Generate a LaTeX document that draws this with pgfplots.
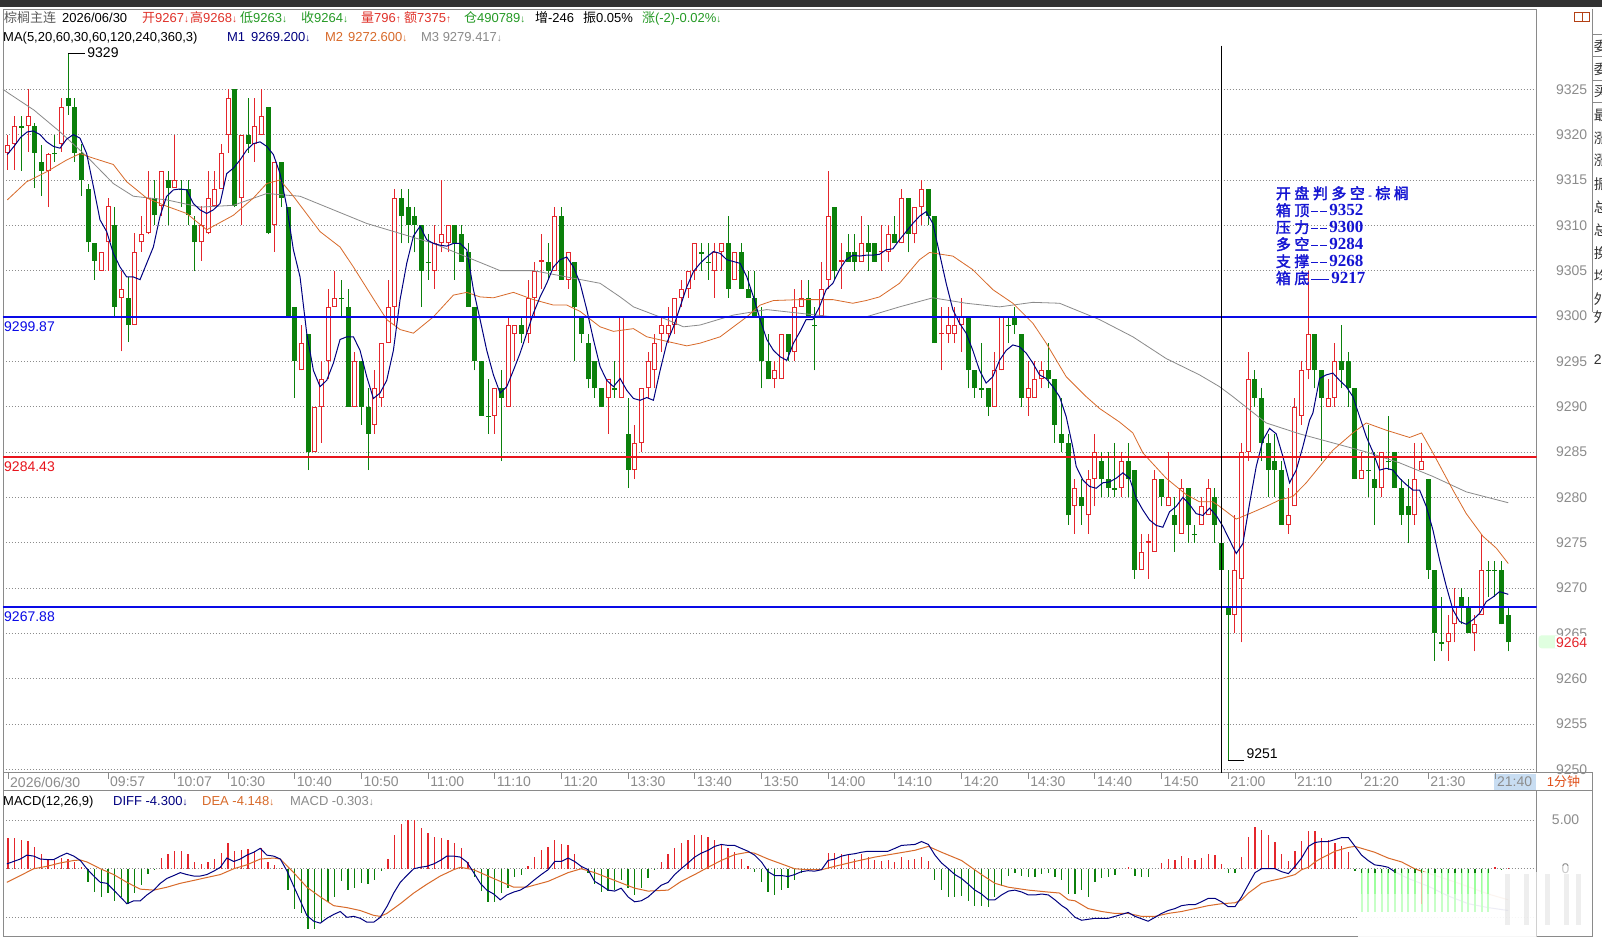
\documentclass[border=0pt]{standalone}
\usepackage{pgfplots}
\pgfplotsset{compat=1.18}
\usepackage{fontspec}
\setmainfont{Liberation Sans}
\newfontfamily\cjk{Noto Sans CJK SC}
\newfontfamily\cjkb[FakeBold=2]{Noto Sans CJK SC}
\newfontfamily\serifb{Liberation Serif}
\newcommand\fs[1]{\fontsize{#1}{#1}\selectfont}
\newcommand\da{{\fs{10}↓}}
\newcommand\ua{{\fs{10}↑}}
\definecolor{cR}{HTML}{E4262C}
\definecolor{cG}{HTML}{0B800B}
\definecolor{navy}{HTML}{000080}
\definecolor{ma20}{HTML}{D86A2A}
\definecolor{ma60}{HTML}{8A8A8A}
\definecolor{lblue}{HTML}{0A0AE6}
\definecolor{lred}{HTML}{E8141C}
\definecolor{txtred}{HTML}{E0322A}
\definecolor{txtgreen}{HTML}{259A25}
\definecolor{txtgray}{HTML}{8C8C8C}
\definecolor{hl}{HTML}{C8DDF2}
\definecolor{boxblue}{HTML}{1414D2}
\definecolor{frame}{HTML}{8A8A8A}
\definecolor{orangetxt}{HTML}{E0501A}

\begin{document}
\begin{tikzpicture}
\begin{scope}[x=1pt,y=1pt]
\fill[white] (0,0) rectangle (1602,942);
\fill[black!80] (0,935) rectangle (1602,942);
\fill[hl] (1494,152) rectangle (1536,168);
\end{scope}

% ---------------- main price panel ----------------
\begin{axis}[
  at={(3pt,169pt)}, anchor=south west, scale only axis,
  width=1534pt, height=764pt,
  xmin=-0.75, xmax=229.25, ymin=9249.62, ymax=9333.85,
  axis line style={frame, line width=0.8pt},
  scaled y ticks=false,
  ytick={9250,9255,...,9325}, yticklabel pos=right, ytick pos=right,
  ymajorgrids, grid style={black!45, dash pattern=on 1pt off 2pt, line width=0.7pt},
  ytick style={draw=none},
  xtick={0,15,25,33,43,53,63,73,83,93,103,113,123,133,143,153,163,173,183,193,203,213,223},
  xticklabels={2026/06/30,09:57,10:07,10:30,10:40,10:50,11:00,11:10,11:20,13:30,13:40,13:50,14:00,14:10,14:20,14:30,14:40,14:50,21:00,21:10,21:20,21:30,21:40},
  xtick pos=left, tick align=outside, major tick length=6pt,
  xtick style={frame, line width=0.8pt},
  xticklabel style={anchor=north west, inner sep=0pt, xshift=2pt, yshift=2pt, text=txtgray, font=\fs{14}},
  yticklabel style={anchor=center, xshift=29pt, text=txtgray, font=\fs{14}},
  /pgf/number format/1000 sep={}, /pgf/number format/assume math mode=true,
  unbounded coords=jump,
]
% ---- wicks (low to high) of rising candles
\addplot[cR, line width=1pt, mark=none] coordinates {(0,9316.1)(0,9319.9)(0,nan)(1,9316.1)(1,9322)(1,nan)(3,9318.1)(3,9325)(3,nan)(6,9312)(6,9318)(6,nan)(8,9318.1)(8,9324)(8,nan)(14,9305)(14,9307.1)(14,nan)(15,9305)(15,9313)(15,nan)(17,9296.1)(17,9305)(17,nan)(19,9299)(19,9309.1)(19,nan)(20,9307.1)(20,9311)(20,nan)(21,9309)(21,9316)(21,nan)(23,9311)(23,9316)(23,nan)(25,9314.1)(25,9320)(25,nan)(29,9306.1)(29,9312.1)(29,nan)(30,9309)(30,9316)(30,nan)(31,9312)(31,9316)(31,nan)(32,9314)(32,9319)(32,nan)(33,9318)(33,9325)(33,nan)(35,9310)(35,9320)(35,nan)(37,9317)(37,9324)(37,nan)(38,9320)(38,9325)(38,nan)(40,9307.1)(40,9317)(40,nan)(44,9294)(44,9299)(44,nan)(46,9285)(46,9290)(46,nan)(47,9286)(47,9295)(47,nan)(48,9293)(48,9303)(48,nan)(49,9301)(49,9305)(49,nan)(52,9290)(52,9296)(52,nan)(55,9287)(55,9294)(55,nan)(56,9290)(56,9297)(56,nan)(57,9297)(57,9304)(57,nan)(58,9299)(58,9314)(58,nan)(64,9303)(64,9310)(64,nan)(65,9307)(65,9315)(65,nan)(66,9307)(66,9310)(66,nan)(73,9287)(73,9292)(73,nan)(75,9290)(75,9300)(75,nan)(76,9295)(76,9299)(76,nan)(78,9297)(78,9304)(78,nan)(79,9300)(79,9306)(79,nan)(80,9303)(80,9309)(80,nan)(82,9305)(82,9312)(82,nan)(84,9303)(84,9307)(84,nan)(90,9287)(90,9293)(90,nan)(92,9291)(92,9300)(92,nan)(94,9282)(94,9288)(94,nan)(95,9285)(95,9292)(95,nan)(96,9291)(96,9296)(96,nan)(97,9292)(97,9298)(97,nan)(98,9296)(98,9300)(98,nan)(99,9297)(99,9301)(99,nan)(100,9298)(100,9302)(100,nan)(101,9301)(101,9304)(101,nan)(102,9302)(102,9305)(102,nan)(103,9304)(103,9308)(103,nan)(106,9302)(106,9308)(106,nan)(107,9305)(107,9308)(107,nan)(109,9304)(109,9307)(109,nan)(115,9292)(115,9295)(115,nan)(116,9293)(116,9298)(116,nan)(118,9295)(118,9303)(118,nan)(119,9301)(119,9304)(119,nan)(122,9300)(122,9306)(122,nan)(123,9303)(123,9316)(123,nan)(125,9303)(125,9308)(125,nan)(128,9306)(128,9311)(128,nan)(131,9305)(131,9310)(131,nan)(132,9306)(132,9310)(132,nan)(134,9308)(134,9314)(134,nan)(136,9308)(136,9312)(136,nan)(137,9310)(137,9315)(137,nan)(140,9294)(140,9301)(140,nan)(141,9297)(141,9301)(141,nan)(142,9297)(142,9301)(142,nan)(143,9296)(143,9302)(143,nan)(148,9290)(148,9296)(148,nan)(149,9294)(149,9300)(149,nan)(153,9289)(153,9295)(153,nan)(154,9291)(154,9295)(154,nan)(155,9292)(155,9295)(155,nan)(160,9276)(160,9282)(160,nan)(162,9276)(162,9283)(162,nan)(163,9279)(163,9287)(163,nan)(167,9280)(167,9285)(167,nan)(170,9272)(170,9276)(170,nan)(171,9271)(171,9276)(171,nan)(172,9274)(172,9283)(172,nan)(174,9279)(174,9285)(174,nan)(176,9276)(176,9282)(176,nan)(179,9277)(179,9280)(179,nan)(180,9278)(180,9282)(180,nan)(184,9265)(184,9278)(184,nan)(185,9264)(185,9286)(185,nan)(186,9284)(186,9296)(186,nan)(192,9276)(192,9281)(192,nan)(193,9279)(193,9291)(193,nan)(194,9288)(194,9295)(194,nan)(195,9293)(195,9305)(195,nan)(198,9290)(198,9293)(198,nan)(199,9290)(199,9297)(199,nan)(203,9282)(203,9285)(203,nan)(206,9280)(206,9285)(206,nan)(211,9277)(211,9286)(211,nan)(212,9283)(212,9286)(212,nan)(216,9262)(216,9267)(216,nan)(217,9264)(217,9270)(217,nan)(220,9263)(220,9267)(220,nan)(221,9267)(221,9276)(221,nan)};
% ---- wicks of falling candles
\addplot[cG, line width=1pt, mark=none] coordinates {(2,9316)(2,9322)(2,nan)(4,9314.1)(4,9321.3)(4,nan)(5,9313.2)(5,9318.9)(5,nan)(7,9317)(7,9320)(7,nan)(9,9322.2)(9,9329)(9,nan)(10,9317)(10,9324)(10,nan)(11,9313.2)(11,9319)(11,nan)(12,9307.1)(12,9314.6)(12,nan)(13,9304)(13,9308)(13,nan)(16,9300)(16,9312)(16,nan)(18,9297.1)(18,9304.3)(18,nan)(22,9310)(22,9315)(22,nan)(24,9310)(24,9316)(24,nan)(26,9312)(26,9315)(26,nan)(27,9310)(27,9315)(27,nan)(28,9305)(28,9311)(28,nan)(34,9312)(34,9325)(34,nan)(36,9318)(36,9324)(36,nan)(39,9309)(39,9323)(39,nan)(41,9312)(41,9317)(41,nan)(42,9300)(42,9312)(42,nan)(43,9291)(43,9301)(43,nan)(45,9283)(45,9298)(45,nan)(50,9300)(50,9304)(50,nan)(51,9290)(51,9303)(51,nan)(53,9288)(53,9295)(53,nan)(54,9283)(54,9292)(54,nan)(59,9308)(59,9314)(59,nan)(60,9308)(60,9314)(60,nan)(61,9307)(61,9312)(61,nan)(62,9301)(62,9310)(62,nan)(63,9304)(63,9309)(63,nan)(67,9304)(67,9310)(67,nan)(68,9306)(68,9310)(68,nan)(69,9301)(69,9308)(69,nan)(70,9294)(70,9301)(70,nan)(71,9289)(71,9295)(71,nan)(72,9287)(72,9293)(72,nan)(74,9284)(74,9294)(74,nan)(77,9297)(77,9300)(77,nan)(81,9304)(81,9308)(81,nan)(83,9304)(83,9312)(83,nan)(85,9295)(85,9306)(85,nan)(86,9297)(86,9300)(86,nan)(87,9292)(87,9298)(87,nan)(88,9291)(88,9295)(88,nan)(89,9290)(89,9292)(89,nan)(91,9291)(91,9295)(91,nan)(93,9281)(93,9291)(93,nan)(104,9305)(104,9308)(104,nan)(105,9304)(105,9308)(105,nan)(108,9302)(108,9311)(108,nan)(110,9303)(110,9308)(110,nan)(111,9302)(111,9305)(111,nan)(112,9300)(112,9305)(112,nan)(113,9292)(113,9301)(113,nan)(114,9293)(114,9298)(114,nan)(117,9295)(117,9298)(117,nan)(120,9300)(120,9304)(120,nan)(121,9294)(121,9301)(121,nan)(124,9304)(124,9312)(124,nan)(126,9306)(126,9309)(126,nan)(127,9305)(127,9309)(127,nan)(129,9305)(129,9310)(129,nan)(130,9306)(130,9308)(130,nan)(133,9308)(133,9311)(133,nan)(135,9307)(135,9313)(135,nan)(138,9310)(138,9314)(138,nan)(139,9297)(139,9311)(139,nan)(144,9292)(144,9300)(144,nan)(145,9291)(145,9294)(145,nan)(146,9291)(146,9297)(146,nan)(147,9289)(147,9292)(147,nan)(150,9297)(150,9300)(150,nan)(151,9298)(151,9301)(151,nan)(152,9290)(152,9298)(152,nan)(156,9292)(156,9297)(156,nan)(157,9286)(157,9293)(157,nan)(158,9285)(158,9291)(158,nan)(159,9277)(159,9287)(159,nan)(161,9277)(161,9282)(161,nan)(164,9280)(164,9285)(164,nan)(165,9280)(165,9285)(165,nan)(166,9280)(166,9286)(166,nan)(168,9280)(168,9286)(168,nan)(169,9271)(169,9283)(169,nan)(173,9279)(173,9282)(173,nan)(175,9274)(175,9280)(175,nan)(177,9275)(177,9281)(177,nan)(178,9275)(178,9277)(178,nan)(181,9275)(181,9281)(181,nan)(182,9272)(182,9275)(182,nan)(183,9251)(183,9272)(183,nan)(187,9290)(187,9294)(187,nan)(188,9284)(188,9292)(188,nan)(189,9280)(189,9287)(189,nan)(190,9280)(190,9287)(190,nan)(191,9277)(191,9284)(191,nan)(196,9292)(196,9298)(196,nan)(197,9284)(197,9294)(197,nan)(200,9292)(200,9299)(200,nan)(201,9290)(201,9296)(201,nan)(202,9282)(202,9292)(202,nan)(204,9280)(204,9288)(204,nan)(205,9277)(205,9285)(205,nan)(207,9283)(207,9289)(207,nan)(208,9281)(208,9285)(208,nan)(209,9277)(209,9282)(209,nan)(210,9275)(210,9282)(210,nan)(213,9271)(213,9282)(213,nan)(214,9262)(214,9272)(214,nan)(215,9263)(215,9269)(215,nan)(218,9266)(218,9270)(218,nan)(219,9265)(219,9269)(219,nan)(222,9269)(222,9273)(222,nan)(223,9269)(223,9273)(223,nan)(224,9266)(224,9273)(224,nan)(225,9263)(225,9268)(225,nan)};
% ---- bodies (open to close) of rising candles
\addplot[cR, line width=5pt, mark=none] coordinates {(0,9318)(0,9318.9)(0,nan)(1,9319)(1,9321)(1,nan)(3,9321)(3,9322)(3,nan)(6,9316)(6,9317.9)(6,nan)(8,9319)(8,9323)(8,nan)(14,9305)(14,9307.1)(14,nan)(15,9308.1)(15,9312.1)(15,nan)(17,9302)(17,9303)(17,nan)(19,9299)(19,9307)(19,nan)(20,9308.1)(20,9309)(20,nan)(21,9309.1)(21,9313)(21,nan)(23,9312.1)(23,9316)(23,nan)(25,9314.1)(25,9315)(25,nan)(29,9308.1)(29,9310)(29,nan)(30,9309.1)(30,9313)(30,nan)(31,9312.1)(31,9314)(31,nan)(32,9314)(32,9318)(32,nan)(33,9320)(33,9324)(33,nan)(35,9313)(35,9320)(35,nan)(37,9319)(37,9321)(37,nan)(38,9320)(38,9322)(38,nan)(40,9310)(40,9317)(40,nan)(44,9294)(44,9297)(44,nan)(46,9285)(46,9290)(46,nan)(47,9290)(47,9293)(47,nan)(48,9295)(48,9301)(48,nan)(49,9301)(49,9302)(49,nan)(52,9290)(52,9295)(52,nan)(55,9288)(55,9292)(55,nan)(56,9291)(56,9297)(56,nan)(57,9297)(57,9301)(57,nan)(58,9301)(58,9313)(58,nan)(64,9305)(64,9308)(64,nan)(65,9308)(65,9309)(65,nan)(66,9308)(66,9310)(66,nan)(73,9289)(73,9292)(73,nan)(75,9290)(75,9299)(75,nan)(76,9298)(76,9299)(76,nan)(78,9298)(78,9302)(78,nan)(79,9302)(79,9305)(79,nan)(80,9306)(80,9306.15)(80,nan)(82,9305)(82,9311)(82,nan)(84,9304)(84,9307)(84,nan)(90,9291)(90,9293)(90,nan)(92,9291)(92,9300)(92,nan)(94,9283)(94,9286)(94,nan)(95,9286)(95,9292)(95,nan)(96,9292)(96,9295)(96,nan)(97,9294)(97,9297)(97,nan)(98,9298)(98,9299)(98,nan)(99,9298)(99,9299)(99,nan)(100,9299)(100,9302)(100,nan)(101,9302)(101,9303)(101,nan)(102,9303)(102,9305)(102,nan)(103,9305)(103,9308)(103,nan)(106,9305)(106,9307)(106,nan)(107,9307)(107,9308)(107,nan)(109,9304)(109,9307)(109,nan)(115,9293)(115,9294)(115,nan)(116,9293)(116,9298)(116,nan)(118,9296)(118,9301)(118,nan)(119,9301)(119,9302)(119,nan)(122,9300)(122,9303)(122,nan)(123,9304)(123,9311)(123,nan)(125,9306)(125,9306.15)(125,nan)(128,9306)(128,9308)(128,nan)(131,9307)(131,9307.15)(131,nan)(132,9307)(132,9309)(132,nan)(134,9308)(134,9313)(134,nan)(136,9309)(136,9312)(136,nan)(137,9312)(137,9314)(137,nan)(140,9298)(140,9298.15)(140,nan)(141,9298)(141,9299)(141,nan)(142,9298)(142,9299)(142,nan)(143,9299)(143,9300)(143,nan)(148,9290)(148,9294)(148,nan)(149,9294)(149,9300)(149,nan)(153,9291)(153,9292)(153,nan)(154,9291)(154,9293)(154,nan)(155,9293)(155,9294)(155,nan)(160,9279)(160,9281)(160,nan)(162,9278)(162,9282)(162,nan)(163,9282)(163,9285)(163,nan)(167,9281)(167,9284)(167,nan)(170,9272)(170,9274)(170,nan)(171,9275)(171,9275.15)(171,nan)(172,9274)(172,9282)(172,nan)(174,9279)(174,9280)(174,nan)(176,9276)(176,9281)(176,nan)(179,9277)(179,9279)(179,nan)(180,9278)(180,9281)(180,nan)(184,9267)(184,9272)(184,nan)(185,9271)(185,9285)(185,nan)(186,9285)(186,9293)(186,nan)(192,9277)(192,9278)(192,nan)(193,9279)(193,9290)(193,nan)(194,9289)(194,9294)(194,nan)(195,9294)(195,9298)(195,nan)(198,9290)(198,9291)(198,nan)(199,9291)(199,9295)(199,nan)(203,9282)(203,9283)(203,nan)(206,9281)(206,9285)(206,nan)(211,9278)(211,9282)(211,nan)(212,9283)(212,9284)(212,nan)(216,9264)(216,9265)(216,nan)(217,9266)(217,9268)(217,nan)(220,9265)(220,9266)(220,nan)(221,9267)(221,9272)(221,nan)};
% ---- hollow interior of rising candles
\addplot[white, line width=3pt, mark=none] coordinates {(0,9318.11)(0,9318.79)(0,nan)(1,9319.11)(1,9320.89)(1,nan)(3,9321.11)(3,9321.89)(3,nan)(6,9316.11)(6,9317.79)(6,nan)(8,9319.11)(8,9322.89)(8,nan)(14,9305.11)(14,9306.99)(14,nan)(15,9308.21)(15,9311.99)(15,nan)(17,9302.11)(17,9302.89)(17,nan)(19,9299.11)(19,9306.89)(19,nan)(20,9308.21)(20,9308.89)(20,nan)(21,9309.21)(21,9312.89)(21,nan)(23,9312.21)(23,9315.89)(23,nan)(25,9314.21)(25,9314.89)(25,nan)(29,9308.21)(29,9309.89)(29,nan)(30,9309.21)(30,9312.89)(30,nan)(31,9312.21)(31,9313.89)(31,nan)(32,9314.11)(32,9317.89)(32,nan)(33,9320.11)(33,9323.89)(33,nan)(35,9313.11)(35,9319.89)(35,nan)(37,9319.11)(37,9320.89)(37,nan)(38,9320.11)(38,9321.89)(38,nan)(40,9310.11)(40,9316.89)(40,nan)(44,9294.11)(44,9296.89)(44,nan)(46,9285.11)(46,9289.89)(46,nan)(47,9290.11)(47,9292.89)(47,nan)(48,9295.11)(48,9300.89)(48,nan)(49,9301.11)(49,9301.89)(49,nan)(52,9290.11)(52,9294.89)(52,nan)(55,9288.11)(55,9291.89)(55,nan)(56,9291.11)(56,9296.89)(56,nan)(57,9297.11)(57,9300.89)(57,nan)(58,9301.11)(58,9312.89)(58,nan)(64,9305.11)(64,9307.89)(64,nan)(65,9308.11)(65,9308.89)(65,nan)(66,9308.11)(66,9309.89)(66,nan)(73,9289.11)(73,9291.89)(73,nan)(75,9290.11)(75,9298.89)(75,nan)(76,9298.11)(76,9298.89)(76,nan)(78,9298.11)(78,9301.89)(78,nan)(79,9302.11)(79,9304.89)(79,nan)(82,9305.11)(82,9310.89)(82,nan)(84,9304.11)(84,9306.89)(84,nan)(90,9291.11)(90,9292.89)(90,nan)(92,9291.11)(92,9299.89)(92,nan)(94,9283.11)(94,9285.89)(94,nan)(95,9286.11)(95,9291.89)(95,nan)(96,9292.11)(96,9294.89)(96,nan)(97,9294.11)(97,9296.89)(97,nan)(98,9298.11)(98,9298.89)(98,nan)(99,9298.11)(99,9298.89)(99,nan)(100,9299.11)(100,9301.89)(100,nan)(101,9302.11)(101,9302.89)(101,nan)(102,9303.11)(102,9304.89)(102,nan)(103,9305.11)(103,9307.89)(103,nan)(106,9305.11)(106,9306.89)(106,nan)(107,9307.11)(107,9307.89)(107,nan)(109,9304.11)(109,9306.89)(109,nan)(115,9293.11)(115,9293.89)(115,nan)(116,9293.11)(116,9297.89)(116,nan)(118,9296.11)(118,9300.89)(118,nan)(119,9301.11)(119,9301.89)(119,nan)(122,9300.11)(122,9302.89)(122,nan)(123,9304.11)(123,9310.89)(123,nan)(128,9306.11)(128,9307.89)(128,nan)(132,9307.11)(132,9308.89)(132,nan)(134,9308.11)(134,9312.89)(134,nan)(136,9309.11)(136,9311.89)(136,nan)(137,9312.11)(137,9313.89)(137,nan)(141,9298.11)(141,9298.89)(141,nan)(142,9298.11)(142,9298.89)(142,nan)(143,9299.11)(143,9299.89)(143,nan)(148,9290.11)(148,9293.89)(148,nan)(149,9294.11)(149,9299.89)(149,nan)(153,9291.11)(153,9291.89)(153,nan)(154,9291.11)(154,9292.89)(154,nan)(155,9293.11)(155,9293.89)(155,nan)(160,9279.11)(160,9280.89)(160,nan)(162,9278.11)(162,9281.89)(162,nan)(163,9282.11)(163,9284.89)(163,nan)(167,9281.11)(167,9283.89)(167,nan)(170,9272.11)(170,9273.89)(170,nan)(172,9274.11)(172,9281.89)(172,nan)(174,9279.11)(174,9279.89)(174,nan)(176,9276.11)(176,9280.89)(176,nan)(179,9277.11)(179,9278.89)(179,nan)(180,9278.11)(180,9280.89)(180,nan)(184,9267.11)(184,9271.89)(184,nan)(185,9271.11)(185,9284.89)(185,nan)(186,9285.11)(186,9292.89)(186,nan)(192,9277.11)(192,9277.89)(192,nan)(193,9279.11)(193,9289.89)(193,nan)(194,9289.11)(194,9293.89)(194,nan)(195,9294.11)(195,9297.89)(195,nan)(198,9290.11)(198,9290.89)(198,nan)(199,9291.11)(199,9294.89)(199,nan)(203,9282.11)(203,9282.89)(203,nan)(206,9281.11)(206,9284.89)(206,nan)(211,9278.11)(211,9281.89)(211,nan)(212,9283.11)(212,9283.89)(212,nan)(216,9264.11)(216,9264.89)(216,nan)(217,9266.11)(217,9267.89)(217,nan)(220,9265.11)(220,9265.89)(220,nan)(221,9267.11)(221,9271.89)(221,nan)};
% ---- bodies (close to open) of falling candles
\addplot[cG, line width=5pt, mark=none] coordinates {(2,9320.75)(2,9320.9)(2,nan)(4,9318)(4,9321)(4,nan)(5,9316)(5,9317)(5,nan)(7,9317.85)(7,9318)(7,nan)(9,9323.1)(9,9324)(9,nan)(10,9318)(10,9323)(10,nan)(11,9315)(11,9318)(11,nan)(12,9308.1)(12,9314)(12,nan)(13,9306.1)(13,9308)(13,nan)(16,9301)(16,9310)(16,nan)(18,9299)(18,9302)(18,nan)(22,9311.1)(22,9313)(22,nan)(24,9314.1)(24,9315)(24,nan)(26,9313.85)(26,9314)(26,nan)(27,9311.1)(27,9314)(27,nan)(28,9308.1)(28,9310)(28,nan)(34,9312.1)(34,9325)(34,nan)(36,9319)(36,9320)(36,nan)(39,9309.1)(39,9323)(39,nan)(41,9313)(41,9317)(41,nan)(42,9300)(42,9312)(42,nan)(43,9295)(43,9301)(43,nan)(45,9285)(45,9298)(45,nan)(50,9301.85)(50,9302)(50,nan)(51,9290)(51,9301)(51,nan)(53,9290)(53,9295)(53,nan)(54,9287)(54,9290)(54,nan)(59,9311)(59,9313)(59,nan)(60,9310)(60,9312)(60,nan)(61,9310)(61,9311)(61,nan)(62,9305)(62,9310)(62,nan)(63,9305.85)(63,9306)(63,nan)(67,9308)(67,9310)(67,nan)(68,9306)(68,9309)(68,nan)(69,9301)(69,9307)(69,nan)(70,9295)(70,9301)(70,nan)(71,9289)(71,9295)(71,nan)(72,9288.85)(72,9289)(72,nan)(74,9291)(74,9292)(74,nan)(77,9298)(77,9299)(77,nan)(81,9305)(81,9306)(81,nan)(83,9304)(83,9311)(83,nan)(85,9301)(85,9306)(85,nan)(86,9298)(86,9300)(86,nan)(87,9293)(87,9297)(87,nan)(88,9292)(88,9295)(88,nan)(89,9290)(89,9292)(89,nan)(91,9291.85)(91,9292)(91,nan)(93,9283)(93,9287)(93,nan)(104,9306.85)(104,9307)(104,nan)(105,9305.85)(105,9306)(105,nan)(108,9303)(108,9308)(108,nan)(110,9303)(110,9307)(110,nan)(111,9302)(111,9303)(111,nan)(112,9300)(112,9302)(112,nan)(113,9295)(113,9300)(113,nan)(114,9293)(114,9295)(114,nan)(117,9296)(117,9298)(117,nan)(120,9300)(120,9302)(120,nan)(121,9298.85)(121,9299)(121,nan)(124,9305)(124,9312)(124,nan)(126,9306)(126,9307)(126,nan)(127,9306)(127,9307)(127,nan)(129,9307)(129,9308)(129,nan)(130,9306)(130,9308)(130,nan)(133,9308)(133,9309)(133,nan)(135,9309)(135,9313)(135,nan)(138,9311)(138,9314)(138,nan)(139,9297)(139,9311)(139,nan)(144,9294)(144,9300)(144,nan)(145,9292)(145,9294)(145,nan)(146,9291.85)(146,9292)(146,nan)(147,9290)(147,9292)(147,nan)(150,9298.85)(150,9299)(150,nan)(151,9299)(151,9300)(151,nan)(152,9291)(152,9298)(152,nan)(156,9293)(156,9294)(156,nan)(157,9288)(157,9293)(157,nan)(158,9286)(158,9287)(158,nan)(159,9278)(159,9286)(159,nan)(161,9279)(161,9280)(161,nan)(164,9282)(164,9284)(164,nan)(165,9281)(165,9282)(165,nan)(166,9280.85)(166,9281)(166,nan)(168,9282)(168,9284)(168,nan)(169,9272)(169,9283)(169,nan)(173,9280)(173,9282)(173,nan)(175,9277)(175,9278)(175,nan)(177,9277)(177,9281)(177,nan)(178,9275.85)(178,9276)(178,nan)(181,9277)(181,9280)(181,nan)(182,9272)(182,9275)(182,nan)(183,9267)(183,9268)(183,nan)(187,9291)(187,9293)(187,nan)(188,9286)(188,9291)(188,nan)(189,9283)(189,9286)(189,nan)(190,9283)(190,9284)(190,nan)(191,9277)(191,9283)(191,nan)(196,9294)(196,9298)(196,nan)(197,9291)(197,9294)(197,nan)(200,9294)(200,9295)(200,nan)(201,9292)(201,9295)(201,nan)(202,9282)(202,9292)(202,nan)(204,9282.85)(204,9283)(204,nan)(205,9281)(205,9282)(205,nan)(207,9283.85)(207,9284)(207,nan)(208,9281)(208,9285)(208,nan)(209,9278)(209,9281)(209,nan)(210,9278)(210,9279)(210,nan)(213,9272)(213,9282)(213,nan)(214,9265)(214,9272)(214,nan)(215,9263.85)(215,9264)(215,nan)(218,9268)(218,9269)(218,nan)(219,9265)(219,9268)(219,nan)(222,9271.85)(222,9272)(222,nan)(223,9271.85)(223,9272)(223,nan)(224,9266)(224,9272)(224,nan)(225,9264)(225,9267)(225,nan)};

% MA60
\addplot[ma60, line width=0.8pt, mark=none] coordinates {(-0.75,9325)(0,9324.6)(3.9,9322.7)(7.8,9320.3)(11.8,9317.6)(15.8,9314.6)(18.8,9313.2)(23.8,9312.8)(28.8,9312)(33.8,9312.2)(38.8,9313.5)(43.8,9313.2)(48.8,9311.7)(53.8,9310.2)(58.8,9309.1)(63.8,9308)(68.8,9306.5)(73.8,9305)(78.8,9305)(83.8,9304.3)(88.8,9303.6)(91.8,9302.1)(93.8,9301)(98.8,9299.6)(101.3,9298.8)(103.8,9299)(108.8,9300.1)(113.8,9300.7)(118.7,9300.3)(123.7,9299.9)(128.7,9299.9)(133.7,9301)(138.7,9302)(143.7,9301.4)(148.7,9301)(153.7,9301.5)(157.7,9301.4)(163.7,9299.6)(168.7,9297.7)(173.7,9295.3)(178.7,9293.5)(181.7,9292.2)(183.7,9291.1)(188.7,9288.2)(193.7,9287)(198.7,9286)(203.7,9285)(208.7,9283.8)(213.7,9282.3)(218.7,9280.6)(225,9279.4)};
% MA20
\addplot[ma20, line width=0.8pt, mark=none] coordinates {(-0.1,9312.8)(2.8,9314.8)(5.8,9315.9)(8.8,9317.2)(10.8,9317.9)(12.8,9317.4)(15.8,9316.7)(17.8,9314.8)(20.8,9313)(23.8,9312.1)(26.8,9311.3)(29.8,9309.5)(33.8,9311.1)(36.8,9313)(38.8,9314.6)(40.8,9315)(42.8,9313.2)(46.8,9309.3)(49.8,9307.6)(51.8,9305.4)(54.8,9301.9)(56.8,9299.6)(58.8,9298.5)(60.8,9298.1)(63.8,9299.9)(66.8,9302.3)(68.8,9302.6)(70.8,9302.1)(72.8,9302)(75.8,9302.6)(78.8,9301.8)(81.8,9301.2)(83.8,9301.2)(85.8,9300.5)(88.8,9298.8)(90.8,9298.3)(93.8,9298.6)(95.8,9297.7)(98.8,9297.2)(101.8,9296.7)(103.8,9297)(106.8,9297.7)(108.8,9298.8)(110.8,9299.9)(112.8,9301.2)(114.8,9301.7)(118.7,9301.8)(123.7,9301.8)(126.7,9301.4)(128.7,9301.7)(130.7,9302.1)(133.7,9303.6)(136.7,9306.2)(138.2,9307)(141.7,9306.6)(144.7,9305.1)(147.7,9302.9)(150.7,9301.4)(153.7,9299.2)(155.7,9297)(158.7,9293.3)(161.7,9291.1)(163.7,9289.8)(166.7,9288.3)(168.7,9287.1)(170.2,9284.9)(173.7,9282.1)(176.7,9280.3)(178.7,9279.5)(180.7,9279.5)(181.7,9279)(184.2,9277.6)(186.2,9278.2)(188.7,9279)(190.7,9279.7)(192.7,9280.1)(194.7,9281.6)(196.7,9283.4)(198.7,9285.2)(201.7,9287.1)(203.7,9288.2)(206.7,9287.4)(210.2,9286.6)(212,9287.1)(213.7,9284.9)(216.7,9280.8)(218.7,9278.2)(221.2,9275.7)(223.2,9274.4)(225,9272.7)};
% MA5
\addplot[navy, line width=1pt, mark=none] coordinates {(-0.1,9317.8)(0.9,9318.7)(1.9,9319.7)(2.9,9320.3)(3.8,9320.4)(4.8,9320)(5.8,9319.2)(6.8,9318.7)(7.8,9318.5)(8.8,9319.5)(9.8,9320)(10.8,9319.6)(11.8,9317.9)(12.8,9314.3)(13.8,9310.6)(14.8,9309.3)(15.8,9306.9)(16.8,9305.4)(17.8,9304.3)(18.8,9304.3)(19.8,9304)(20.8,9305.8)(21.8,9307.6)(22.8,9311)(23.8,9313.2)(24.8,9313.9)(25.8,9314)(26.8,9313.9)(27.8,9312.4)(28.8,9311.7)(29.8,9311.3)(30.8,9311.7)(31.8,9312.4)(32.8,9315.7)(33.8,9316.3)(34.8,9317.2)(35.8,9318.3)(36.8,9319)(37.8,9319.2)(38.8,9318.7)(39.8,9317.8)(40.8,9315.7)(41.8,9312.1)(42.8,9307.3)(43.8,9304.3)(44.8,9298.1)(45.8,9294)(46.8,9292.2)(47.8,9292.9)(48.8,9294.8)(49.8,9297.4)(50.8,9297.7)(51.8,9297.7)(52.8,9296.2)(53.8,9293.3)(54.8,9290.9)(55.8,9291.5)(56.8,9292.9)(57.8,9296.2)(58.8,9301.8)(59.8,9305.8)(60.8,9308.8)(61.8,9309.9)(62.8,9308.4)(63.8,9308)(64.8,9307.8)(65.8,9307.7)(66.8,9308)(67.8,9308)(68.8,9307.3)(69.8,9302.9)(70.8,9299.6)(71.8,9296.2)(72.8,9293.5)(73.8,9291.5)(74.8,9292.2)(75.8,9294)(76.8,9295.9)(77.8,9298.1)(78.8,9300.3)(79.8,9302.1)(80.8,9303.6)(81.8,9305.4)(82.8,9306.2)(83.8,9306.5)(84.8,9305.4)(85.8,9303.6)(86.8,9300.7)(87.8,9297.4)(88.8,9294.4)(89.8,9292.9)(90.8,9292.2)(91.8,9293.1)(92.8,9291.8)(93.8,9290.9)(94.8,9290.7)(95.8,9291)(96.8,9290.7)(97.8,9294)(98.8,9297)(99.8,9298.8)(100.8,9301)(101.8,9303.2)(102.8,9304.9)(103.8,9305.8)(104.8,9306.5)(105.8,9307.1)(106.8,9306.9)(107.8,9306.2)(108.8,9306)(109.8,9305.8)(110.8,9304.3)(111.8,9302.1)(112.8,9299.6)(113.8,9297.4)(114.8,9296.2)(115.8,9295.5)(116.8,9295.1)(117.8,9297)(118.8,9298.3)(119.7,9299.6)(120.7,9299.6)(121.7,9301)(122.7,9302.9)(123.7,9303.6)(124.7,9305.1)(125.7,9306.2)(126.7,9306.7)(127.7,9306.6)(128.7,9306.7)(129.7,9306.7)(130.7,9306.8)(131.7,9307.3)(132.7,9307.4)(133.7,9308.4)(134.7,9309.3)(135.7,9310.2)(136.7,9311)(137.7,9311.5)(138.7,9310.2)(139.7,9306.9)(140.7,9303.6)(141.7,9300.7)(142.7,9299.2)(143.7,9298.1)(144.7,9296.2)(145.7,9294)(146.7,9292.6)(147.7,9293.3)(148.7,9295.1)(149.7,9296.2)(150.7,9296.8)(151.7,9296.6)(152.7,9295.9)(153.7,9294.8)(154.7,9293.5)(155.7,9293.1)(156.7,9292.2)(157.7,9291.1)(158.7,9288.9)(159.7,9285.5)(160.2,9283.4)(161.2,9281.9)(162.2,9281.2)(163.2,9281)(164.2,9281.6)(165.2,9281.7)(166.2,9282.1)(167.2,9282.7)(168.2,9282.1)(169.2,9279.9)(170.2,9278.6)(171.2,9277.5)(172.2,9276.9)(173.2,9276.7)(174.2,9278.4)(175.2,9279)(176.2,9280)(177.2,9279.2)(178.2,9278.2)(179.2,9278)(180.2,9278.8)(181.2,9278)(182.2,9276.8)(183.2,9275.3)(184.2,9273.8)(185.2,9274.9)(186.2,9279.3)(187.2,9283.4)(188.2,9286.3)(189.2,9287.6)(190.2,9287)(191.2,9284.5)(192.2,9281.6)(193.2,9283)(194.2,9285.6)(195.2,9288.5)(195.7,9289.3)(196.7,9293.1)(197.7,9293.5)(198.7,9293.7)(199.7,9292.9)(200.7,9292.2)(201.7,9291.1)(202.7,9288.9)(203.7,9286.7)(204.7,9285)(205.7,9283)(206.7,9283.2)(207.7,9283)(208.7,9282.1)(209.7,9281.4)(210.7,9280.8)(211.7,9280.8)(212.7,9279)(213.7,9276.4)(214.7,9273.1)(215.7,9270.2)(216.7,9267.6)(217.7,9266.3)(218.7,9266)(219.7,9266.5)(220.7,9267.2)(221.7,9268.5)(222.7,9269)(223.7,9269.6)(225,9269.3)};

% key levels
\addplot[lblue, line width=2pt, mark=none] coordinates {(-0.75,9299.87)(229.25,9299.87)};
\addplot[lred, line width=2pt, mark=none] coordinates {(-0.75,9284.43)(229.25,9284.43)};
\addplot[lblue, line width=2pt, mark=none] coordinates {(-0.75,9267.88)(229.25,9267.88)};
% session marker
\addplot[black, line width=1pt, mark=none] coordinates {(182,9329.8)(182,9249.62)};

\coordinate (l1) at (axis cs:-0.75,9299.87);
\coordinate (l2) at (axis cs:-0.75,9284.43);
\coordinate (l3) at (axis cs:-0.75,9267.88);
\coordinate (hi) at (axis cs:9,9329);
\coordinate (lo) at (axis cs:183,9251);
\end{axis}

% ---------------- MACD panel ----------------
\begin{axis}[
  at={(3pt,5pt)}, anchor=south west, scale only axis,
  width=1534pt, height=146pt,
  xmin=-0.75, xmax=229.25, ymin=-7.0, ymax=8.02,
  axis line style={frame, line width=0.8pt},
  xtick=\empty,
  ytick={-5,0,5}, yticklabels={,0,5.00}, yticklabel pos=right, ytick pos=right,
  ymajorgrids, grid style={black!45, dash pattern=on 1pt off 2pt, line width=0.7pt},
  ytick style={draw=none},
  yticklabel style={anchor=center, xshift=29pt, text=txtgray, font=\fs{14}},
]
\addplot[ycomb, cR, line width=1.3pt, mark=none] coordinates {(0,3.2)(1,3.2)(2,3.0)(3,2.9)(4,2.2)(5,1.5)(6,1.0)(7,0.85)(8,1.1)(9,1.0)(10,0.7)(11,0.15)(23,1.1)(24,1.5)(25,1.8)(26,1.8)(27,1.5)(28,0.7)(29,0.5)(30,0.7)(31,1.0)(32,1.6)(33,2.6)(34,1.8)(35,1.9)(36,2.0)(37,1.8)(38,2.1)(39,0.7)(40,0.4)(41,0.1)(57,1.0)(58,3.5)(59,4.6)(60,5.0)(61,5.0)(62,4.2)(63,3.7)(64,3.3)(65,3.2)(66,3.0)(67,2.6)(68,2.1)(69,0.7)(78,0.25)(79,1.2)(80,1.9)(81,2.2)(82,3.0)(83,2.5)(84,2.4)(85,1.5)(86,0.25)(98,0.7)(99,1.5)(100,2.1)(101,2.6)(102,3.0)(103,3.5)(104,3.5)(105,3.3)(106,3.0)(107,2.5)(108,2.1)(109,1.7)(110,1.0)(111,0.25)(123,1.6)(124,1.6)(125,1.5)(126,1.4)(127,1.0)(128,1.5)(129,1.2)(130,0.85)(131,0.75)(132,0.85)(133,0.7)(134,1.2)(135,0.85)(136,1.0)(137,1.2)(138,0.8)(168,0.15)(173,0.6)(174,1.0)(175,0.85)(176,1.3)(177,1.1)(178,0.9)(179,1.1)(180,1.5)(181,1.4)(182,0.5)(185,1.2)(186,3.3)(187,4.3)(188,4.0)(189,3.5)(190,2.8)(191,1.5)(192,0.8)(193,1.8)(194,2.9)(195,3.9)(196,3.9)(197,3.2)(198,3.0)(199,2.6)(200,2.3)(201,1.7)(223,0.2)(225,0.1)};
\addplot[ycomb, cG, line width=1.3pt, mark=none] coordinates {(12,-1.4)(13,-2.4)(14,-2.9)(15,-2.5)(16,-3.3)(17,-2.9)(18,-3.6)(19,-2.5)(20,-1.7)(21,-0.5)(22,-0.1)(42,-2.2)(43,-4.1)(44,-4.6)(45,-6.2)(46,-6.2)(47,-5.5)(48,-3.4)(49,-2.9)(50,-1.3)(51,-2.2)(52,-2.0)(53,-1.5)(54,-1.6)(55,-1.2)(56,-0.25)(70,-0.9)(71,-2.3)(72,-3.4)(73,-3.4)(74,-2.5)(75,-2.0)(76,-0.9)(77,-0.6)(87,-0.4)(88,-1.6)(89,-2.4)(90,-2.3)(91,-2.2)(92,-1.2)(93,-2.0)(94,-2.7)(95,-2.0)(96,-1.0)(97,-0.1)(112,-0.3)(113,-1.4)(114,-2.4)(115,-2.7)(116,-2.2)(117,-2.0)(118,-1.2)(119,-0.4)(120,-0.1)(139,-1.2)(140,-2.2)(141,-2.9)(142,-2.9)(143,-2.8)(144,-3.3)(145,-3.8)(146,-3.8)(147,-3.9)(148,-2.9)(149,-1.8)(150,-0.7)(151,-0.4)(152,-0.7)(153,-0.9)(154,-0.9)(155,-0.5)(156,-0.4)(157,-0.9)(158,-1.2)(159,-2.6)(160,-2.6)(161,-2.2)(162,-2.9)(163,-1.4)(164,-1.0)(165,-0.8)(166,-0.6)(169,-0.7)(170,-0.9)(171,-0.8)(183,-0.4)(184,-0.4)(202,-0.2)};
% DEA
\addplot[ma20, line width=1pt, mark=none] coordinates {(-0.17,-1.4)(1.85,-0.7)(3.87,0)(5.83,0.25)(7.85,0.6)(9.87,0.85)(10.85,0.9)(11.83,0.7)(13.85,0)(15.86,-0.6)(17.83,-1.4)(19.84,-2.1)(21.86,-2.2)(23.83,-1.9)(25.84,-1.5)(27.86,-1.2)(29.82,-0.9)(31.84,-0.6)(33.86,0)(35.82,0.4)(37.84,1.0)(39.85,1.1)(40.84,1.0)(42.85,-0.4)(44.82,-1.9)(46.84,-2.9)(48.85,-3.8)(50.82,-4.0)(52.83,-4.3)(54.85,-4.8)(55.83,-4.9)(56.82,-4.6)(58.83,-3.6)(60.85,-2.5)(62.81,-1.6)(64.83,-0.75)(66.84,-0.1)(67.83,0.15)(69.84,-0.1)(71.81,-0.7)(73.83,-1.3)(75.84,-1.9)(77.81,-1.9)(78.84,-1.7)(81.0,-1.3)(84.0,-0.4)(85.96,0)(87.98,-0.4)(90.98,-1.2)(93.98,-2.0)(96.0,-2.3)(99.0,-2.2)(100.96,-1.3)(102.98,-0.6)(105.0,0.15)(106.96,0.85)(108.97,1.45)(110.99,1.7)(111.97,1.6)(113.99,1.0)(116.0,0.5)(117.97,0)(119.99,-0.1)(122.0,-0.1)(124.02,0.25)(127.02,0.75)(130.02,1.2)(133.02,1.55)(136.02,1.9)(138.03,2.3)(140.0,1.7)(143.0,0.85)(146.0,-0.6)(148.01,-1.5)(150.03,-1.9)(153.03,-2.2)(156.03,-2.4)(157.7,-2.5)(159.03,-3.2)(160.03,-3.3)(162.0,-4.1)(164.01,-4.4)(166.02,-4.6)(168.0,-4.6)(170.0,-4.9)(172.02,-4.9)(173.99,-4.6)(176.0,-4.4)(178.02,-4.1)(179.99,-3.8)(182.0,-3.6)(184.02,-3.5)(185.0,-3.2)(186.04,-2.5)(187.02,-2.0)(188.0,-1.5)(189.03,-1.3)(191.0,-1.0)(193.02,-0.6)(194.0,-0.1)(195.03,0.15)(196.01,0.7)(197.0,1.1)(198.03,1.45)(199.01,1.8)(199.99,2.0)(201.03,2.2)(202.01,2.3)(203.0,2.1)(204.96,1.7)(206.98,1.1)(209.0,0.7)(210.96,0)(211.99,-0.25)(215,-0.9)(218,-1.6)(222,-2.6)(225,-3.2)};
% DIFF
\addplot[navy, line width=1pt, mark=none] coordinates {(-0.17,0.5)(1.85,1.0)(2.83,1.4)(3.87,1.3)(4.85,1.0)(5.83,0.95)(6.87,0.95)(7.85,1.3)(8.83,1.6)(9.87,1.3)(10.85,0.85)(11.83,0)(12.86,-0.75)(13.85,-1.4)(14.83,-1.5)(15.86,-2.2)(16.85,-2.9)(17.83,-3.6)(18.86,-3.3)(19.84,-3.3)(20.83,-2.7)(21.86,-2.2)(22.84,-1.5)(23.83,-1.0)(24.86,-0.7)(25.84,-0.4)(26.83,-0.6)(27.86,-0.75)(28.84,-0.75)(29.82,-0.6)(30.86,-0.25)(31.84,0.15)(32.82,1.1)(33.86,0.75)(34.84,1.0)(35.82,1.4)(36.86,1.7)(37.84,2.1)(38.82,1.4)(39.85,1.3)(40.84,1.0)(41.82,-0.2)(42.85,-1.8)(43.84,-3.3)(44.82,-4.8)(45.85,-5.4)(46.84,-5.6)(47.82,-5.1)(48.85,-4.7)(49.83,-4.4)(50.82,-5.0)(51.85,-4.9)(52.83,-5.1)(53.82,-5.5)(54.85,-5.5)(55.83,-5.0)(56.82,-3.9)(57.85,-2.5)(58.83,-1.4)(59.81,-0.7)(60.85,0)(61.83,0.15)(62.81,0.25)(63.85,0.5)(64.83,0.85)(65.81,1.3)(66.84,1.3)(67.83,1.2)(68.81,0.7)(69.84,-0.4)(70.83,-1.5)(71.81,-2.2)(72.84,-2.6)(73.83,-3.2)(74.81,-2.7)(75.84,-2.4)(76.83,-2.2)(77.81,-1.8)(78.84,-1.2)(79.97,-0.6)(81.0,-0.1)(82.0,0.75)(82.97,0.75)(84.0,1.1)(84.98,0.75)(85.96,0.25)(87.0,-0.1)(87.98,-1.3)(88.96,-1.7)(90.0,-2.2)(90.98,-2.3)(91.96,-2.0)(93.0,-2.9)(93.98,-3.4)(94.96,-3.3)(96.0,-2.9)(96.98,-2.3)(97.96,-1.7)(99.0,-1.4)(99.98,-0.6)(100.96,0)(102.0,0.6)(102.98,1.2)(103.96,1.6)(105.0,1.9)(105.97,2.3)(106.96,2.5)(107.99,2.4)(108.97,2.4)(109.96,2.1)(110.99,1.8)(111.97,1.4)(113.0,0.7)(113.99,-0.3)(114.97,-0.7)(116.0,-0.7)(116.99,-0.8)(117.97,-0.6)(119.0,-0.3)(119.99,-0.2)(120.97,-0.25)(122.0,-0.1)(122.99,0.85)(124.02,1.0)(125.0,1.3)(125.98,1.45)(127.02,1.55)(128.0,1.7)(128.98,1.8)(130.02,1.8)(131.0,1.8)(131.98,1.8)(133.02,2.1)(134.0,2.4)(134.98,2.45)(136.02,2.5)(137.0,2.8)(138.03,2.5)(139.02,1.4)(140.0,0.6)(141.03,0)(142.01,-0.6)(143.0,-1.0)(144.03,-1.6)(145.01,-2.2)(146.0,-2.6)(147.03,-3.2)(148.01,-3.2)(149.0,-2.7)(150.03,-2.3)(151.01,-2.2)(152.05,-2.4)(153.03,-2.7)(154.01,-2.7)(155.04,-2.6)(156.03,-2.7)(157.01,-3.2)(158.04,-3.8)(158.73,-4.1)(160.03,-5.0)(161.01,-5.3)(163.03,-5.1)(165.0,-5.1)(166.02,-4.9)(168.0,-4.5)(169.02,-4.9)(170.99,-5.4)(172.02,-5.0)(173.0,-4.6)(173.99,-4.3)(175.02,-4.1)(176.0,-3.8)(176.99,-3.7)(178.02,-3.7)(179.0,-3.4)(179.99,-3.05)(181.02,-3.05)(182.0,-3.4)(182.98,-3.9)(184.02,-3.9)(185.0,-2.9)(186.04,-1.6)(187.02,-0.4)(188.0,0)(189.03,0)(190.02,0)(191.0,-0.3)(192.03,-0.5)(193.02,0.25)(194.0,1.1)(195.03,2.3)(196.01,2.7)(197.0,2.8)(198.03,2.8)(199.01,3.0)(199.99,3.2)(201.03,3.2)(202.01,2.3)(203.0,1.4)(203.98,0.85)(204.96,0.4)(206.0,0.3)(206.98,0.15)(207.96,-0.3)(210,-1.0)(213,-1.8)(216,-2.8)(219,-3.6)(222,-4.0)(225,-4.3)};
% watermark haze over the last bars
\fill[white, opacity=0.93] (axis cs:202.4,-0.35) rectangle (axis cs:229.25,-7.0);
\addplot[ycomb, green!22!white, line width=2pt, mark=none] coordinates {(203,-4.4)(204,-4.4)(205,-4.4)(206,-4.4)(207,-4.4)(208,-4.4)(209,-4.4)(210,-4.4)(211,-4.4)(212,-4.4)(213,-4.4)(214,-4.4)(215,-4.4)(216,-4.4)(217,-4.4)(218,-4.4)(219,-4.4)(220,-4.4)(221,-4.4)(222,-4.4)};
\addplot[ycomb, green!38!white, line width=1.6pt, mark=none] coordinates {(203,-2.6)(204,-2.6)(205,-2.6)(206,-2.6)(207,-2.6)(208,-2.6)(209,-2.6)(210,-2.6)(211,-2.6)(212,-2.6)(213,-2.6)(214,-2.6)(215,-2.6)(216,-2.6)(217,-2.6)(218,-2.6)(219,-2.6)(220,-2.6)(221,-2.6)(222,-2.6)};
\addplot[ycomb, ma20!45!white, line width=1.6pt, mark=none] coordinates {(212,-3.6)};
\addplot[ycomb, cG, line width=1.3pt, mark=none] coordinates {(203,-0.4)(204,-0.4)(205,-0.4)(206,-0.4)(207,-0.4)(208,-0.4)(209,-0.4)(210,-0.4)(211,-0.4)(212,-0.4)(213,-0.4)(214,-0.4)(215,-0.4)(216,-0.4)(217,-0.4)(218,-0.4)(219,-0.4)(220,-0.4)(221,-0.4)(222,-0.4)(224,-0.1)};
\end{axis}

\begin{scope}[x=1pt,y=1pt]
% watermark haze over the right part of the MACD panel and its label column
\fill[white, opacity=0.55] (1537.5,12) rectangle (1592.5,76);
\foreach \xx in {1508,1527,1548,1567,1579}
  \fill[black!18, opacity=0.35] (\xx-2.5,17) rectangle (\xx+2.5,68);
% ---------------- frames of side columns ----------------
\draw[frame, line width=0.8pt] (3,169) -- (3,151);
\draw[frame, line width=0.8pt] (1537,169) -- (1593,169);
\draw[frame, line width=0.8pt] (1537,151) -- (1593,151);
\draw[frame, line width=0.8pt] (1593,169) -- (1593,5) -- (1537,5);
\draw[frame, line width=0.8pt] (1593,933) -- (1593,630);
\foreach \yy in {908,886,862,840,630} \draw[frame, line width=0.8pt] (1593,\yy) -- (1602,\yy);
\draw[orangetxt!80!black, line width=0.8pt] (1575,921) rectangle (1590,930);
\draw[orangetxt!80!black, line width=0.8pt] (1582.5,921) -- (1582.5,930);
\begin{scope}
\clip (1594,0) rectangle (1602,942);
\foreach \ch/\yy in {委/896,委/873,买/850,最/827,涨/804,涨/782,振/758,总/735,总/712,换/689,均/666,外/643,外/625}
  \node[overlay, anchor=west, inner sep=0pt, font=\cjk\fs{14}, text=black!80] at (1594,\yy) {\ch};
\node[overlay, anchor=west, inner sep=0pt, font=\fs{14}, text=black!80] at (1594,582) {2};
\end{scope}

% ---------------- header ----------------
\begin{scope}[every node/.style={anchor=base west, inner sep=0pt, font=\fs{13}}]
\node[text=black!65] at (4,919) {\cjk 棕榈主连};
\node[text=black] at (62,919) {2026/06/30};
\node[text=txtred] at (142,919) {{\cjk 开}9267\da};
\node[text=txtred] at (190,919) {{\cjk 高}9268\da};
\node[text=txtgreen] at (240,919) {{\cjk 低}9263\da};
\node[text=txtgreen] at (301,919) {{\cjk 收}9264\da};
\node[text=txtred] at (361,919) {{\cjk 量}796\ua};
\node[text=txtred] at (404,919) {{\cjk 额}7375\ua};
\node[text=txtgreen] at (464,919) {{\cjk 仓}490789\da};
\node[text=black] at (535,919) {{\cjk 增}-246};
\node[text=black] at (583,919) {{\cjk 振}0.05\%};
\node[text=txtgreen] at (642,919) {{\cjk 涨}(-2)-0.02\%\da};
\node[text=black] at (3,900) {MA(5,20,60,30,60,120,240,360,3)};
\node[text=navy] at (227,900) {M1};
\node[text=navy] at (251,900) {9269.200\da};
\node[text=ma20] at (325,900) {M2};
\node[text=ma20] at (348,900) {9272.600\da};
\node[text=ma60] at (421,900) {M3 9279.417\da};
\node[text=black] at (3,136) {MACD(12,26,9)};
\node[text=navy] at (113,136) {DIFF -4.300\da};
\node[text=ma20] at (202,136) {DEA -4.148\da};
\node[text=ma60] at (290,136) {MACD -0.303\da};
\node[text=orangetxt] at (1547,155) {1{\cjk 分钟}};
\end{scope}

% ---------------- level labels and annotations ----------------
\begin{scope}[every node/.style={anchor=north west, inner sep=0pt, font=\fs{14}}]
\node[text=lblue, xshift=1pt, yshift=-4pt] at (l1) {9299.87};
\node[text=lred, xshift=1pt, yshift=-4pt] at (l2) {9284.43};
\node[text=lblue, xshift=1pt, yshift=-4pt] at (l3) {9267.88};
\end{scope}
\draw[black, line width=0.8pt] (hi) -- ++(17,0) node[anchor=west, inner sep=2pt, font=\fs{14}] {9329};
\draw[black, line width=0.8pt] (lo) -- ++(16,0) node[anchor=west, inner sep=2pt, yshift=7pt, font=\fs{14}] {9251};
\fill[green!12, rounded corners=3pt] (1539,293.5) rectangle (1560,306.5);
\node[fill=white, inner sep=1pt, text=cR, font=\fs{14}, anchor=center] at (1572,299.4) {9264};

% ---------------- opening-judgement box ----------------
\newcommand\gap{\hspace{3.5pt}}
\newcommand\dd{\hspace{2pt}\rule[4pt]{7pt}{0.9pt}\hspace{2pt}\rule[4pt]{7pt}{0.9pt}\hspace{2pt}}
\begin{scope}[every node/.style={anchor=base west, inner sep=0pt, text=boxblue}]
\node at (1276,743) {\cjkb\fs{15}开\gap 盘\gap 判\gap 多\gap 空\gap{\fs{10}-}\gap 棕\gap 榈};
\node at (1276,726) {\cjkb\fs{15}箱\gap 顶\dd{\serifb\bfseries\fs{17}9352}};
\node at (1276,709) {\cjkb\fs{15}压\gap 力\dd{\serifb\bfseries\fs{17}9300}};
\node at (1276,692) {\cjkb\fs{15}多\gap 空\dd{\serifb\bfseries\fs{17}9284}};
\node at (1276,675) {\cjkb\fs{15}支\gap 撑\dd{\serifb\bfseries\fs{17}9268}};
\node at (1276,658) {\cjkb\fs{15}箱\gap 底\hspace{2pt}\rule[4pt]{18pt}{0.9pt}\hspace{2pt}{\serifb\bfseries\fs{17}9217}};
\end{scope}
\end{scope}
\end{tikzpicture}
\end{document}
